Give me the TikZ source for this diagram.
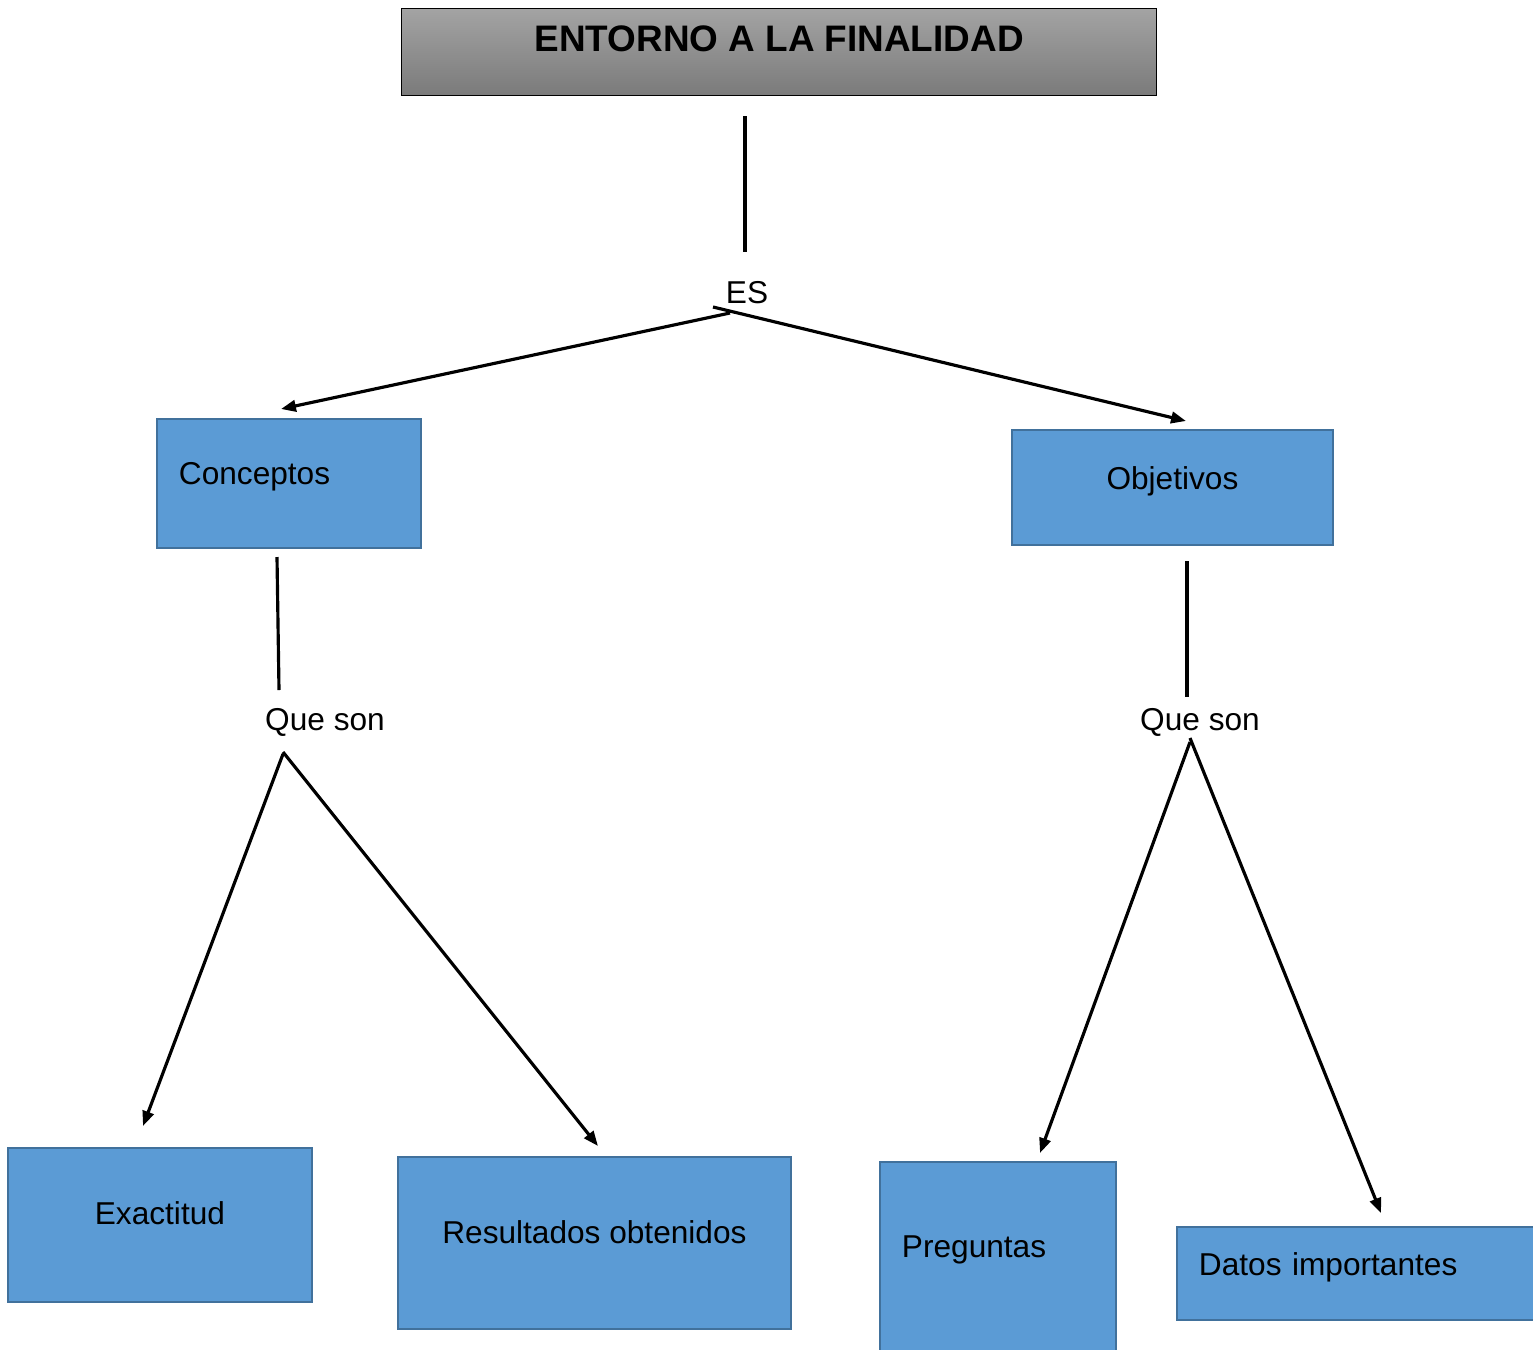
\documentclass[tikz,border=0pt]{standalone}
\usepackage{fontspec}
\setmainfont{Liberation Sans}
\usetikzlibrary{positioning}
\usetikzlibrary{arrows.meta}
\definecolor{boxblue}{HTML}{5B9BD5}
\definecolor{boxedge}{HTML}{41719C}
\tikzset{
	every node/.style = {font=\fontsize{18}{21}\selectfont},
	bluebox/.style = {draw=boxedge, fill=boxblue, line width=1.1pt, anchor=north west,
		inner ysep=0pt, text height=13pt, text depth=12pt},
	link/.style = {line width=1.8pt, black},
	tip/.style = {-{Triangle[length=8.5pt, width=6.5pt]}}
}

\begin{document}
\begin{tikzpicture}[x=0.02cm, y=-0.02cm]
	\useasboundingbox (0,0) rectangle (1533,1349);

	% title
	\node[draw=black, line width=0.8pt, top color=black!36, bottom color=black!52,
		anchor=north west, minimum width=15.1cm, minimum height=1.74cm, inner ysep=0pt,
		text height=15pt, text depth=16pt, font=\fontsize{21}{24}\selectfont\bfseries]
		(title) at (401,8) {ENTORNO A LA FINALIDAD};

	% linking words
	\node (es) at (747,293) {ES};
	\node (queL) at (325,722) {Que son};
	\node (queR) at (1200,722) {Que son};

	% depth 1
	\node[bluebox, text width=4.4cm, inner xsep=0.44cm, minimum height=2.58cm, align=left]
		(conceptos) at (156,418) {Conceptos};
	\node[bluebox, minimum width=6.42cm, minimum height=2.3cm, text depth=11pt]
		(objetivos) at (1011,429) {Objetivos};

	% depth 2
	\node[bluebox, minimum width=6.08cm, minimum height=3.08cm, text depth=13.6pt]
		(exactitud) at (7,1147) {Exactitud};
	\node[bluebox, minimum width=7.86cm, minimum height=3.44cm, text depth=12.4pt]
		(resultados) at (397,1156) {Resultados obtenidos};
	\node[bluebox, text width=3.84cm, inner xsep=0.44cm, minimum height=3.96cm, align=left,
		text depth=17pt] (preguntas) at (879,1161) {Preguntas};
	\node[bluebox, text width=6.48cm, inner xsep=0.44cm, minimum height=1.86cm, align=left,
		text depth=10.8pt] (datos) at (1176,1226) {Datos importantes};

	% connector ends
	\coordinate (titleOut) at (745,116);
	\coordinate (esIn) at (745,252);
	\coordinate (esOutL) at (730,313);
	\coordinate (esOutR) at (713,307);
	\coordinate (concIn) at (281,409);
	\coordinate (objIn) at (1186,421);
	\coordinate (concOut) at (277,557);
	\coordinate (queLIn) at (279,690);
	\coordinate (objOut) at (1187,561);
	\coordinate (queRIn) at (1187,697);
	\coordinate (queLOut1) at (283,754);
	\coordinate (queLOut2) at (283,752);
	\coordinate (queROut1) at (1190,742);
	\coordinate (queROut2) at (1190,738);
	\coordinate (exaIn) at (143,1126);
	\coordinate (resIn) at (598,1146);
	\coordinate (preIn) at (1040,1153);
	\coordinate (datIn) at (1381,1213);

	% plain lines
	\foreach \a/\b in {titleOut/esIn, concOut/queLIn, objOut/queRIn}
		\draw[link] (\a) -- (\b);
	% arrows
	\foreach \a/\b in {esOutL/concIn, esOutR/objIn, queLOut1/exaIn, queLOut2/resIn,
		queROut1/preIn, queROut2/datIn}
		\draw[link, tip] (\a) -- (\b);
\end{tikzpicture}
\end{document}
